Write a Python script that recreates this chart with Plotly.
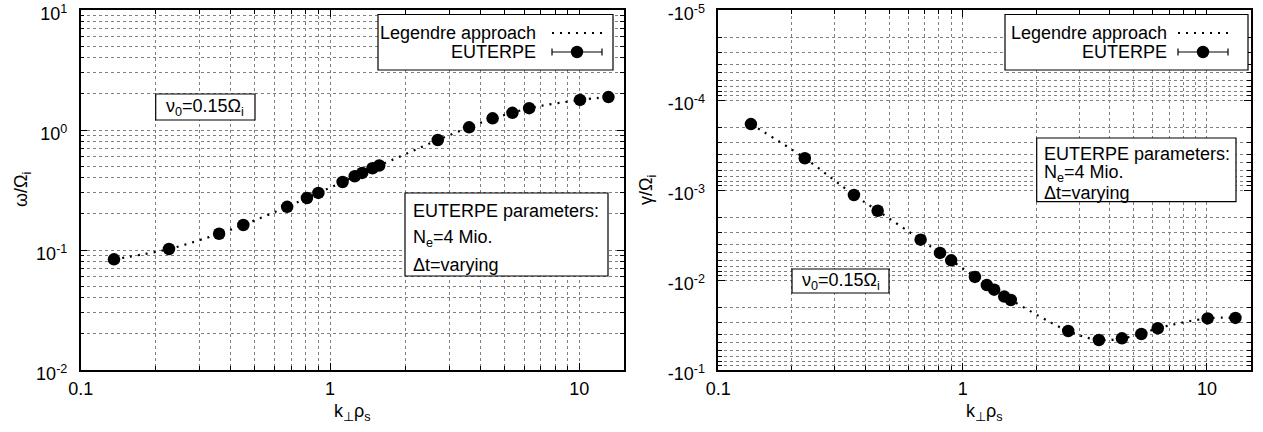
import plotly.graph_objects as go

W, H = 1263, 432

# ---------------- data ----------------
k_perp = [0.136, 0.226, 0.359, 0.449, 0.673, 0.808, 0.898, 1.123, 1.256,
          1.346, 1.48, 1.575, 2.705, 3.612, 4.487, 5.39, 6.29, 10.06, 13.08]

# EUTERPE results
euterpe_omega = [0.0836, 0.102, 0.1367, 0.1616, 0.229, 0.271, 0.299, 0.369, 0.412,
                 0.439, 0.480, 0.506, 0.825, 1.052, 1.25, 1.39, 1.52, 1.78, 1.88]
euterpe_gamma = [-1.85e-4, -4.44e-4, -1.136e-3, -1.70e-3, -3.56e-3, -5.0e-3, -6.05e-3,
                 -9.25e-3, -1.14e-2, -1.28e-2, -1.53e-2, -1.67e-2, -3.69e-2, -4.64e-2,
                 -4.45e-2, -3.98e-2, -3.44e-2, -2.67e-2, -2.64e-2]

# Legendre approach (dotted curve, passes through the EUTERPE points)
legendre_omega = [0.0836, 0.102, 0.1367, 0.1616, 0.229, 0.271, 0.299, 0.369, 0.412,
                  0.439, 0.480, 0.506, 0.825, 1.052, 1.25, 1.39, 1.52, 1.78, 1.88]
legendre_gamma = [-1.85e-4, -4.44e-4, -1.136e-3, -1.70e-3, -3.56e-3, -5.0e-3, -6.05e-3,
                  -9.25e-3, -1.14e-2, -1.28e-2, -1.53e-2, -1.67e-2, -3.69e-2, -4.64e-2,
                  -4.45e-2, -3.98e-2, -3.44e-2, -2.67e-2, -2.64e-2]

x_tickvals = [0.1, 1, 10]
x_ticktext = ["0.1", "1", "10"]
y1_tickvals = [0.01, 0.1, 1, 10]
y1_ticktext = ["10<sup>-2</sup>", "10<sup>-1</sup>", "10<sup>0</sup>", "10<sup>1</sup>"]
y2_tickvals = [1e-5, 1e-4, 1e-3, 1e-2, 1e-1]
y2_ticktext = ["-10<sup>-5</sup>", "-10<sup>-4</sup>", "-10<sup>-3</sup>",
               "-10<sup>-2</sup>", "-10<sup>-1</sup>"]

# ---------------- styling helpers ----------------
FONT = "Liberation Sans, Arial, Helvetica, sans-serif"
FS = 18
GRID = "#808080"
DOTS = "2px,6px"


def px(x):
    return x / W


def py(y):
    return 1 - y / H


def minor_vals(e0, e1):
    return [d * 10.0 ** e for e in range(e0, e1) for d in range(2, 10)]


def log_axis(rng, domain, anchor, tickvals, ticktext, minors, standoff, shift=0):
    return dict(
        type="log", range=rng, domain=domain, anchor=anchor, automargin=False,
        tickmode="array", tickvals=tickvals, ticktext=ticktext,
        ticklabeloverflow="allow", ticklabelshift=shift,
        ticks="inside", ticklen=7, tickwidth=1, tickcolor="black",
        showline=True, linecolor="black", linewidth=1.5, mirror="allticks",
        showgrid=True, gridcolor=GRID, griddash="dot", gridwidth=1,
        zeroline=False, ticklabelstandoff=standoff,
        tickfont=dict(family=FONT, size=FS, color="black"),
        minor=dict(tickmode="array", tickvals=minors, ticks="inside", ticklen=4,
                   tickcolor="black", showgrid=True, gridcolor=GRID,
                   griddash="dot", gridwidth=1),
    )


fig = go.Figure()

# left panel: real frequency
fig.add_trace(go.Scatter(x=k_perp, y=legendre_omega, mode="lines",
                         line=dict(color="black", width=2.2, dash=DOTS, shape="spline"),
                         xaxis="x", yaxis="y", showlegend=False))
fig.add_trace(go.Scatter(x=k_perp, y=euterpe_omega, mode="markers",
                         marker=dict(size=12.5, color="black"),
                         xaxis="x", yaxis="y", showlegend=False))

# right panel: damping rate (plotted as -gamma on reversed log axis)
fig.add_trace(go.Scatter(x=k_perp, y=[-g for g in legendre_gamma], mode="lines",
                         line=dict(color="black", width=2.2, dash=DOTS, shape="spline"),
                         xaxis="x2", yaxis="y2", showlegend=False))
fig.add_trace(go.Scatter(x=k_perp, y=[-g for g in euterpe_gamma], mode="markers",
                         marker=dict(size=12.5, color="black"),
                         xaxis="x2", yaxis="y2", showlegend=False))

ydom = [py(370), py(10)]
layout = dict(
    width=W, height=H, margin=dict(l=0, r=0, t=0, b=0, autoexpand=False),
    paper_bgcolor="white", plot_bgcolor="white",
    font=dict(family=FONT, size=FS, color="black"),
    xaxis=log_axis([-1, 1.179], [px(80.7), px(624)], "y", x_tickvals, x_ticktext,
                   minor_vals(-1, 2), 2),
    yaxis=log_axis([-2, 1], ydom, "x", y1_tickvals, y1_ticktext, minor_vals(-2, 1), 8, 4),
    xaxis2=log_axis([-1, 1.179], [px(718.3), px(1250.7)], "y2", x_tickvals, x_ticktext,
                    minor_vals(-1, 2), 2),
    yaxis2=log_axis([-1, -5], ydom, "x2", y2_tickvals, y2_ticktext, minor_vals(-5, -1), 8, -4),
)
fig.update_layout(**layout)

shapes = []
annotations = []


def box(x0, y0, x1, y1):
    shapes.append(dict(type="rect", xref="paper", yref="paper",
                       x0=px(x0), x1=px(x1), y0=py(y1), y1=py(y0),
                       line=dict(color="black", width=1.2), fillcolor="white"))


def text(x, y, s, xanchor="left", angle=0):
    annotations.append(dict(xref="paper", yref="paper", x=px(x), y=py(y), text=s,
                            showarrow=False, xanchor=xanchor, yanchor="middle",
                            textangle=angle,
                            font=dict(family=FONT, size=FS, color="black")))


# legends (custom, text to the left of sample)
for (bx0, bx1, tx, s0, s1) in [(378, 613, 538, 552, 602), (1005, 1248, 1168.5, 1178, 1228)]:
    box(bx0, 14.5, bx1, 70)
    text(tx, 33, "Legendre approach", "right")
    text(tx, 52, "EUTERPE", "right")
    shapes.append(dict(type="line", xref="paper", yref="paper", x0=px(s0), x1=px(s1),
                       y0=py(33), y1=py(33), line=dict(color="black", width=2.2, dash=DOTS)))
    shapes.append(dict(type="line", xref="paper", yref="paper", x0=px(s0), x1=px(s1),
                       y0=py(52), y1=py(52), line=dict(color="black", width=1.2)))
    for cx in (s0, s1):
        shapes.append(dict(type="line", xref="paper", yref="paper", x0=px(cx), x1=px(cx),
                           y0=py(48.5), y1=py(55.5), line=dict(color="black", width=1.2)))
    mc = (s0 + s1) / 2
    shapes.append(dict(type="circle", xref="paper", yref="paper",
                       x0=px(mc - 6.2), x1=px(mc + 6.2), y0=py(58.2), y1=py(45.8),
                       fillcolor="black", line=dict(color="black", width=0)))

# nu_0 boxes
box(155.7, 94, 255, 120)
text(205.3, 107.5, "ν<sub>0</sub>=0.15Ω<sub>i</sub>", "center")
box(792, 269, 889, 293)
text(840.5, 281.5, "ν<sub>0</sub>=0.15Ω<sub>i</sub>", "center")

# parameter boxes
box(405, 193, 608, 276)
text(411, 211, "EUTERPE parameters:")
text(411, 239, "N<sub>e</sub>=4 Mio.")
text(411, 265, "Δt=varying")
box(1036.7, 138, 1236, 201.7)
text(1041.5, 154.5, "EUTERPE parameters:")
text(1041.5, 173, "N<sub>e</sub>=4 Mio.")
text(1041.5, 193, "Δt=varying")

# axis titles
text(22, 190, "ω/Ω<sub>i</sub>", "center", -90)
text(647, 190, "γ/Ω<sub>i</sub>", "center", -90)
text(352, 412, "k<sub>⊥</sub>ρ<sub>s</sub>", "center")
text(984, 412, "k<sub>⊥</sub>ρ<sub>s</sub>", "center")

fig.update_layout(shapes=shapes, annotations=annotations)

fig.write_html("out.html", config={"displayModeBar": False},
               post_script="document.body.style.margin='0';")
